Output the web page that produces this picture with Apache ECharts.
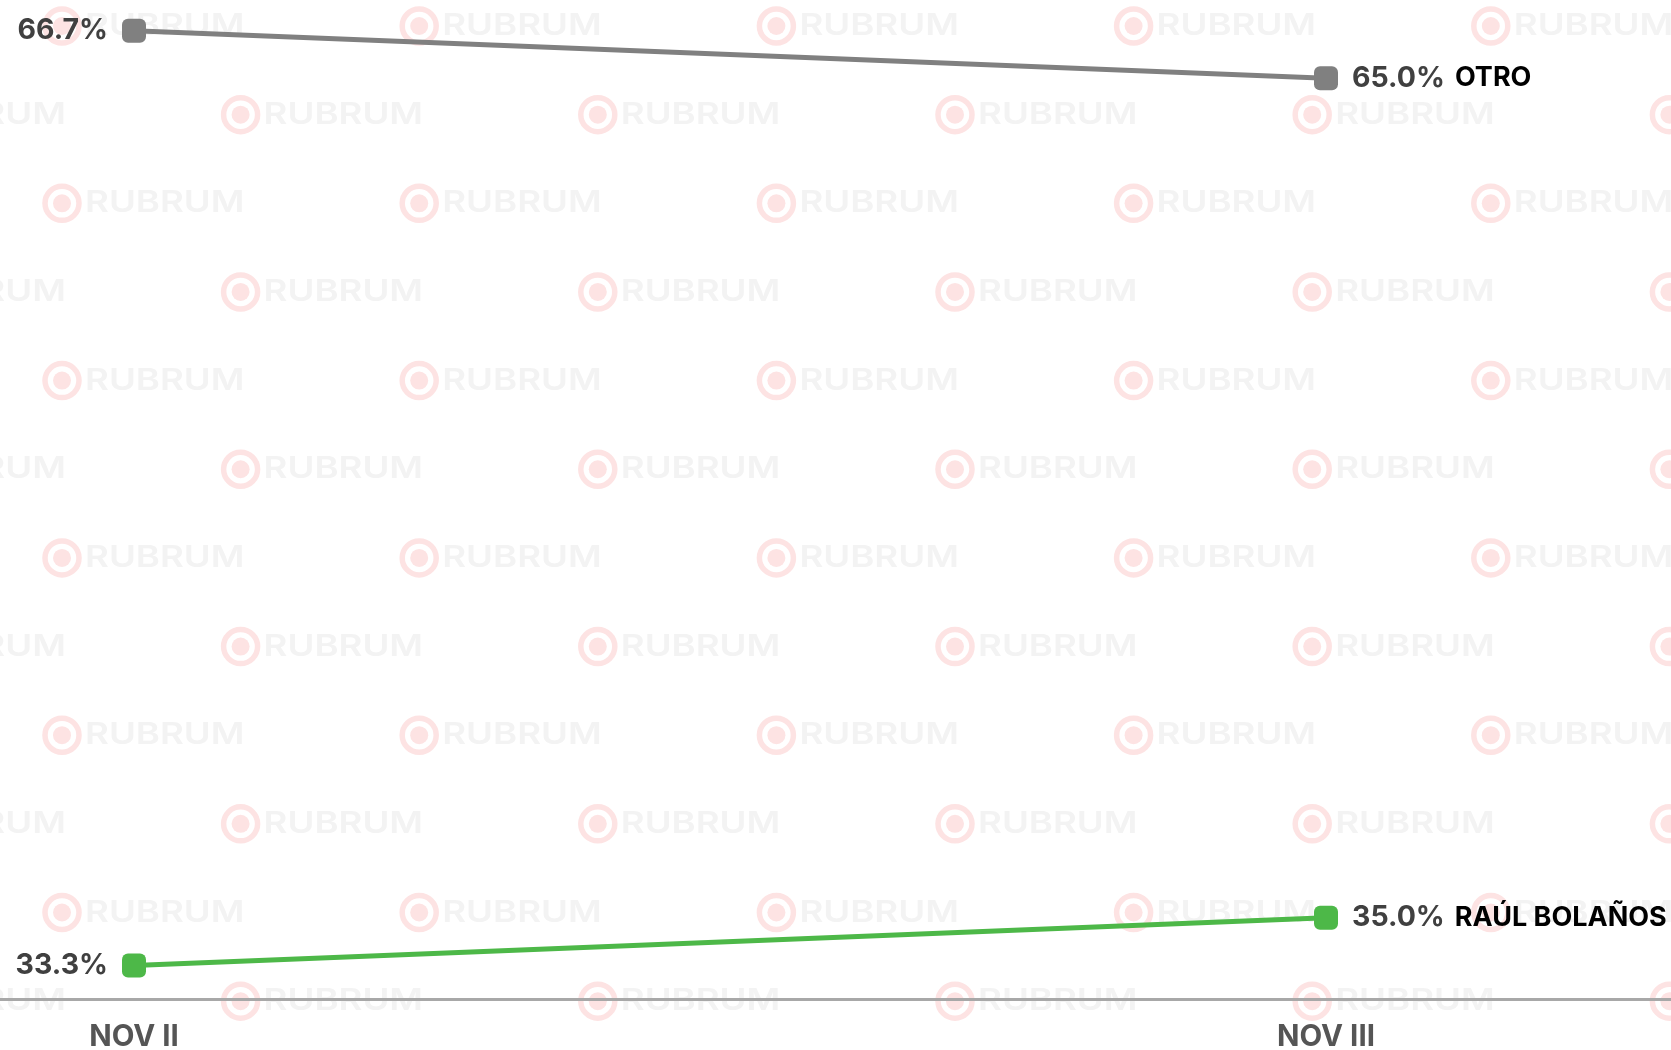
<!DOCTYPE html>
<html>
<head>
<meta charset="utf-8">
<title>Otro vs Raúl Bolaños</title>
<script src="https://cdn.jsdelivr.net/npm/echarts@6/dist/echarts.min.js"></script>
<style>
  html, body { margin: 0; padding: 0; background: #ffffff; }
  #chart { width: 1671px; height: 1050px; }
</style>
</head>
<body>
<div id="chart"></div>
<script>
// Periods on the horizontal axis
const categories = ['NOV II', 'NOV III'];

// Share per candidate (%)
const otroValues = [66.7, 65.0];
const raulValues = [33.3, 35.0];

const seriesNames = ['OTRO', 'RAÚL BOLAÑOS'];
const seriesColors = ['#808080', '#4db848'];

const FONT = 'Inter, "Noto Sans", sans-serif';

// Tiled brand watermark behind the plot
function buildWatermark() {
  const els = [];
  const rowGap = 88.65, colGap = 357.2;
  for (let r = 0; r < 12; r++) {
    const cy = 26 + r * rowGap;
    const shift = (r % 2 === 0) ? 62 : 62 + colGap / 2;
    for (let c = -1; c < 6; c++) {
      const cx = shift + c * colGap;
      if (cx < -200 || cx > 1700) continue;
      els.push({
        type: 'circle', z: -10, silent: true,
        shape: { cx: cx, cy: cy, r: 17 },
        style: { fill: 'none', stroke: '#fde3e3', lineWidth: 5.5 }
      });
      els.push({
        type: 'circle', z: -10, silent: true,
        shape: { cx: cx, cy: cy, r: 9 },
        style: { fill: '#fde3e3' }
      });
      els.push({
        type: 'text', z: -10, silent: true,
        x: cx + 23, y: cy, scaleX: 1.22,
        style: {
          text: 'RUBRUM', fill: '#f3f3f3',
          font: '600 30px ' + FONT,
          textAlign: 'left', textVerticalAlign: 'middle'
        }
      });
    }
  }
  return els;
}

function pct(v) { return v.toFixed(1) + '%'; }

// Value label on the first point (left), value + name on the last point (right)
function buildData(values, name) {
  const last = values.length - 1;
  return values.map((v, i) => {
    if (i === 0) {
      return {
        value: v,
        label: {
          show: true, position: 'left', distance: 14,
          formatter: () => pct(v),
          fontFamily: FONT, fontWeight: 'bold', fontSize: 28.5, color: '#404040'
        }
      };
    }
    if (i === last) {
      return {
        value: v,
        label: {
          show: true, position: 'right', distance: 14,
          formatter: () => '{v|' + pct(v) + '}{n|' + name + '}',
          rich: {
            v: { fontFamily: FONT, fontWeight: 'bold', fontSize: 28.5, color: '#404040' },
            n: { fontFamily: FONT, fontWeight: 'bold', fontSize: 27, color: '#000000', padding: [0, 0, 0, 10] }
          }
        }
      };
    }
    return { value: v };
  });
}

function lineSeries(values, idx) {
  return {
    name: seriesNames[idx],
    type: 'line',
    xAxisIndex: 0, yAxisIndex: 0,
    data: buildData(values, seriesNames[idx]),
    symbol: 'roundRect',
    symbolSize: 24,
    lineStyle: { color: seriesColors[idx], width: 5 },
    itemStyle: { color: seriesColors[idx] },
    z: 3
  };
}

const chart = echarts.init(document.getElementById('chart'), null, { renderer: 'canvas' });

chart.setOption({
  animation: false,
  backgroundColor: '#ffffff',
  graphic: buildWatermark(),
  grid: [
    { left: 134, right: 345, top: 0, bottom: 51, containLabel: false, outerBoundsMode: 'none' },
    { left: 0, right: 0, top: 0, bottom: 51, containLabel: false, outerBoundsMode: 'none' }
  ],
  xAxis: [
    {
      gridIndex: 0,
      type: 'category',
      data: categories,
      boundaryGap: false,
      axisLine: { show: false },
      axisTick: { show: false },
      axisLabel: {
        margin: 23,
        fontFamily: FONT, fontWeight: 'bold', fontSize: 29.5, color: '#555555'
      },
      splitLine: { show: false }
    },
    {
      // full-width baseline
      gridIndex: 1,
      type: 'value', min: 0, max: 1,
      axisLine: { show: true, lineStyle: { color: '#a8a8a8', width: 3 } },
      axisTick: { show: false },
      axisLabel: { show: false },
      splitLine: { show: false }
    }
  ],
  yAxis: [
    { gridIndex: 0, type: 'value', min: 32.1, max: 67.8, show: false, splitLine: { show: false } },
    { gridIndex: 1, type: 'value', min: 0, max: 1, show: false, splitLine: { show: false } }
  ],
  series: [
    lineSeries(otroValues, 0),
    lineSeries(raulValues, 1)
  ]
});
</script>
</body>
</html>
